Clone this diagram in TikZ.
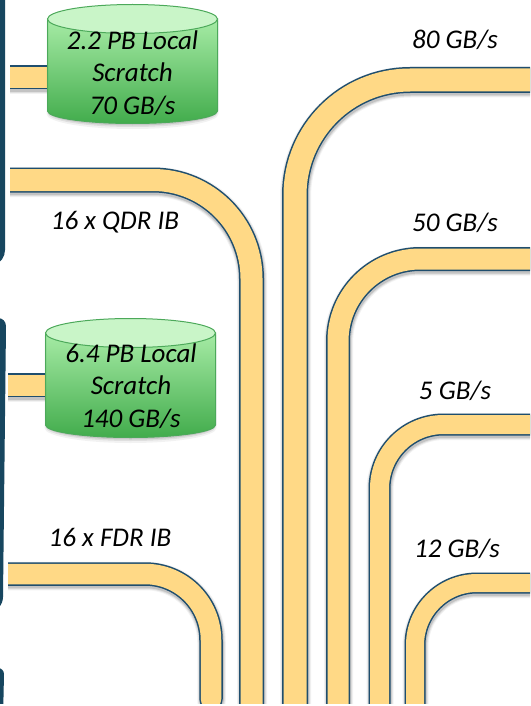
\documentclass[tikz,border=0pt]{standalone}
\usepackage{fontspec}
\setmainfont{Carlito}
\definecolor{pipeedge}{HTML}{1F4E6E}
\definecolor{pipefill}{HTML}{FFD986}
\definecolor{panel}{HTML}{17465F}
\definecolor{cyledge}{HTML}{4CA95A}
\definecolor{cyltop}{HTML}{C9F5C8}
\definecolor{cyla}{HTML}{A6EBA5}
\definecolor{cylb}{HTML}{42AC4C}
\tikzset{
  lbl/.style={font=\itshape\fontsize{27}{30}\selectfont,text=black,inner sep=0pt},
  cyllbl/.style={font=\itshape\fontsize{27}{32.3}\selectfont,text=black,align=center,inner sep=0pt},
}
\newcommand{\pipe}[3][]{%
  \pgfmathsetlengthmacro{\wa}{#2+5pt}\pgfmathsetlengthmacro{\wb}{#2+3pt}\pgfmathsetlengthmacro{\wc}{#2+1pt}%
  \pgfmathsetlengthmacro{\wd}{#2-3pt}%
  \draw[black,opacity=0.05,line width=\wa,#1,shift={(0.5pt,-2pt)}] #3;
  \draw[black,opacity=0.08,line width=\wb,#1,shift={(0.5pt,-2pt)}] #3;
  \draw[black,opacity=0.12,line width=\wc,#1,shift={(0.5pt,-2pt)}] #3;
  \draw[pipeedge,line width=#2,#1] #3;
  \draw[pipefill,line width=\wd,#1] #3;
}
\newcommand{\cyl}[2]{% x-left, y of rim centre
  \begin{scope}[shift={(#1,#2)}]
    \fill[black,opacity=0.05] (-1,2) -- (-1,95) arc[x radius=86,y radius=15,start angle=180,end angle=0] -- (171,2) -- cycle;
    \fill[black,opacity=0.08] (0,2) -- (0,94) arc[x radius=85,y radius=14,start angle=180,end angle=0] -- (170,2) -- cycle;
    \fill[black,opacity=0.10] (1,2) -- (1,93) arc[x radius=84,y radius=13.5,start angle=180,end angle=0] -- (169,2) -- cycle;
    \shade[top color=cyla,bottom color=cylb,draw=cyledge,line width=1pt] (0,0) -- (0,92) arc[x radius=85,y radius=12.5,start angle=180,end angle=0] -- (170,0) -- cycle;
    \draw[fill=cyltop,draw=cyledge,line width=1pt] (85,0) ellipse[x radius=85,y radius=14.5];
  \end{scope}
}
\begin{document}
\begin{tikzpicture}[x=1pt,y=-1pt]
\useasboundingbox (0,0) rectangle (530,706);
\fill[white] (0,0) rectangle (530,706);
\begin{scope}
\clip (0,0) rectangle (530,703);
% pipes
\pipe{24pt}{(-20,77.5) -- (60,77.5)}
\pipe{24pt}{(-20,385) -- (60,385)}
\pipe{25pt}{(-20,180) -- (153,180) arc[radius=98.5,start angle=-90,end angle=0] -- (251.5,720)}
\pipe[line cap=round]{23.5pt}{(-30,574) -- (145,574) arc[radius=66,start angle=-90,end angle=0] -- (211,699)}
\pipe{26pt}{(560,80) -- (410,80) arc[radius=115,start angle=-90,end angle=-180] -- (295,720)}
\pipe{24pt}{(560,259) -- (420,259) arc[radius=82,start angle=-90,end angle=-180] -- (338,720)}
\pipe{22pt}{(560,424.5) -- (443.5,424.5) arc[radius=64,start angle=-90,end angle=-180] -- (379.5,720)}
\pipe{21pt}{(560,583) -- (477,583) arc[radius=62,start angle=-90,end angle=-180] -- (415,720)}
% blank strip left of the pipes, then panels
\fill[white] (0,0) rectangle (10,300);
\fill[white] (0,300) rectangle (8,706);
\fill[panel] (-10,-10) -- (5,-10) -- (5,250) arc[radius=16,start angle=0,end angle=70] -- (-10,268) -- cycle;
\fill[panel] (-10,318) -- (-2,318) arc[radius=8,start angle=-90,end angle=0] -- (3,597) arc[radius=15,start angle=0,end angle=90] -- (-10,612) -- cycle;
\fill[panel] (-10,668) -- (-2,668) arc[radius=6,start angle=-90,end angle=0] -- (3,720) -- (-10,720) -- cycle;
\end{scope}
% cylinders
\cyl{47.5}{19}
\cyl{45.5}{333}
% cylinder labels
\node[cyllbl] (ca) at (132.5,73) {2.2 PB Local\\Scratch\\70 GB/s};
\node[cyllbl] (cb) at (131,386) {6.4 PB Local\\Scratch\\140 GB/s};
% labels
\node[lbl] (l1) at (115,222.5) {16 x QDR IB};
\node[lbl] (l2) at (110,537.5) {16 x FDR IB};
\node[lbl] (l3) at (455,40) {80 GB/s};
\node[lbl] (l4) at (455,222.5) {50 GB/s};
\node[lbl] (l5) at (455,390.5) {5 GB/s};
\node[lbl] (l6) at (457,548.5) {12 GB/s};
\end{tikzpicture}
\end{document}
